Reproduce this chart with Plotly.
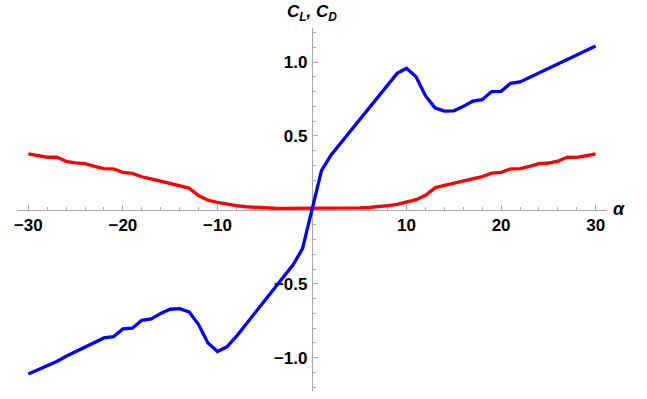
import plotly.graph_objects as go

# Angle of attack (degrees)
alpha = list(range(-30, 31))

# Lift coefficient C_L
cl = [-1.110, -1.083, -1.052, -1.025, -0.990, -0.958, -0.932, -0.898, -0.866, -0.858,
      -0.805, -0.800, -0.747, -0.738, -0.700, -0.672, -0.668, -0.690, -0.776, -0.900,
      -0.958, -0.926, -0.856, -0.775, -0.695, -0.614, -0.534, -0.453, -0.372, -0.262,
      0.000,
      0.265, 0.370, 0.449, 0.528, 0.607, 0.686, 0.765, 0.844, 0.923, 0.957,
      0.900, 0.772, 0.690, 0.668, 0.670, 0.700, 0.735, 0.745, 0.800, 0.802,
      0.856, 0.865, 0.896, 0.930, 0.957, 0.988, 1.020, 1.048, 1.078, 1.108]

# Drag coefficient C_D
cd = [0.378, 0.367, 0.356, 0.357, 0.328, 0.318, 0.313, 0.294, 0.279, 0.277,
      0.254, 0.247, 0.224, 0.210, 0.194, 0.178, 0.163, 0.147, 0.097, 0.066,
      0.050, 0.037, 0.028, 0.021, 0.016, 0.013, 0.011, 0.010, 0.010, 0.010,
      0.010,
      0.010, 0.010, 0.010, 0.011, 0.013, 0.016, 0.021, 0.028, 0.037, 0.052,
      0.069, 0.099, 0.149, 0.165, 0.179, 0.194, 0.210, 0.225, 0.248, 0.254,
      0.277, 0.279, 0.294, 0.313, 0.317, 0.329, 0.357, 0.355, 0.366, 0.378]

x_ticks = [-30, -20, -10, 10, 20, 30]
x_tick_text = ["\u221230", "\u221220", "\u221210", "10", "20", "30"]
y_ticks = [-1.0, -0.5, 0.5, 1.0]
y_tick_text = ["\u22121.0", "\u22120.5", "0.5", "1.0"]

x_range = [-31.2, 31.2]
y_range = [-1.225, 1.23]

axis_color = "#a8a8a8"
tick_font = dict(family="Liberation Sans, Arial, sans-serif", size=17,
                 color="black", weight="bold")

fig = go.Figure()
fig.add_trace(go.Scatter(x=alpha, y=cd, mode="lines",
                         line=dict(color="rgb(255,0,0)", width=3.3),
                         hoverinfo="skip"))
fig.add_trace(go.Scatter(x=alpha, y=cl, mode="lines",
                         line=dict(color="rgb(0,0,255)", width=3.3),
                         hoverinfo="skip"))

# axes crossing at the origin
x_pos = (0 - y_range[0]) / (y_range[1] - y_range[0])
y_pos = (0 - x_range[0]) / (x_range[1] - x_range[0])

fig.update_layout(
    width=647, height=399,
    margin=dict(l=17, r=40, t=28, b=8),
    paper_bgcolor="white", plot_bgcolor="white",
    showlegend=False,
    xaxis=dict(range=x_range, anchor="free", position=x_pos,
               showgrid=False, zeroline=False,
               showline=True, linecolor=axis_color, linewidth=1.3,
               layer="below traces",
               tickmode="array", tickvals=x_ticks, ticktext=x_tick_text,
               ticks="inside", ticklen=5, tickwidth=1, tickcolor=axis_color,
               tickfont=tick_font, ticklabelstandoff=0,
               minor=dict(dtick=2, tick0=0, ticks="inside", ticklen=3,
                          tickwidth=1, tickcolor=axis_color)),
    yaxis=dict(range=y_range, anchor="free", position=y_pos,
               showgrid=False, zeroline=False,
               showline=True, linecolor=axis_color, linewidth=1.3,
               layer="below traces",
               tickmode="array", tickvals=y_ticks, ticktext=y_tick_text,
               ticks="inside", ticklen=5, tickwidth=1, tickcolor=axis_color,
               tickfont=tick_font, ticklabelstandoff=1,
               minor=dict(dtick=0.1, tick0=0, ticks="inside", ticklen=3,
                          tickwidth=1, tickcolor=axis_color)),
)

# axis titles placed at the ends of the axes
fig.add_annotation(x=0.0, y=1.0, xref="x", yref="paper",
                   text="<b><i>C<sub>L</sub>, C<sub>D</sub></i></b>",
                   showarrow=False, xanchor="center", yanchor="bottom",
                   yshift=2,
                   font=dict(family="Liberation Sans, Arial, sans-serif",
                             size=17, color="black"))
fig.add_annotation(x=1.0, y=0.0, xref="paper", yref="y",
                   text="<b><i>\u03b1</i></b>",
                   showarrow=False, xanchor="left", yanchor="middle",
                   xshift=4, yshift=1,
                   font=dict(family="Liberation Sans, Arial, sans-serif",
                             size=18, color="black"))

fig.write_html("out.html")
